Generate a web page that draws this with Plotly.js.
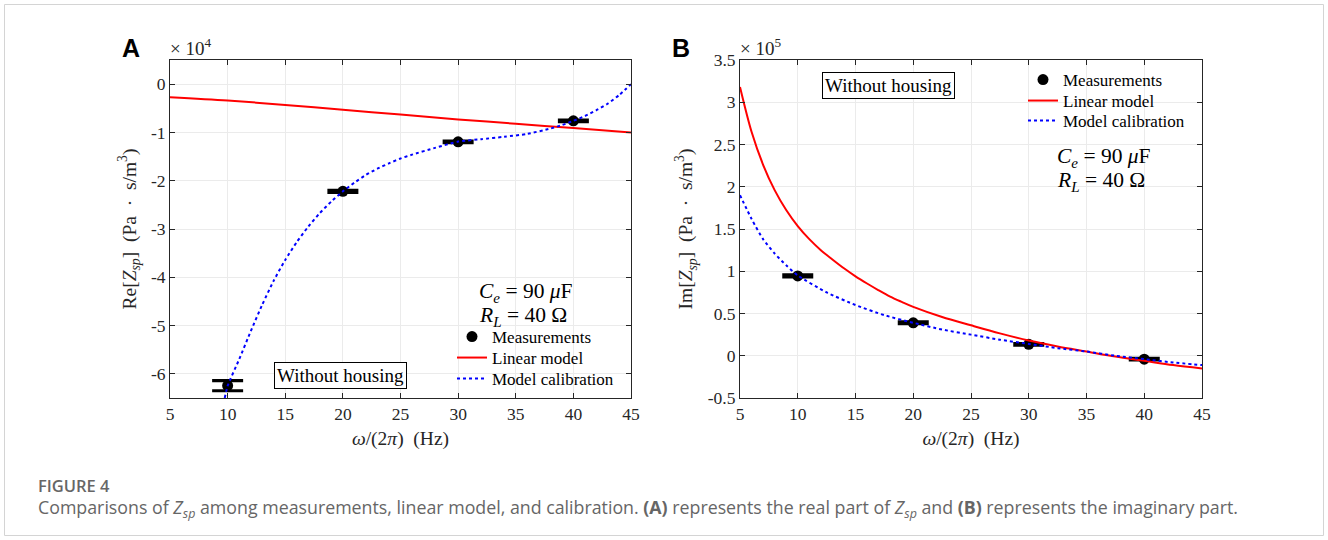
<!DOCTYPE html>
<html>
<head>
<meta charset="utf-8">
<script src="https://cdn.plot.ly/plotly-3.0.1.min.js"></script>
<style>
html,body{margin:0;padding:0;background:#fff;}
#chart{width:1328px;height:540px;}
</style>
</head>
<body>
<div id="chart"></div>
<script>
// ---------- data ----------
const measFreq = [10, 20, 30, 40];
const reMeas = [-6.245, -2.22, -1.195, -0.76];      // x1e4
const reErr = [0.105, 0.02, 0.015, 0.015];
const imMeas = [0.945, 0.39, 0.135, -0.04];        // x1e5
const imErr = [0.012, 0.01, 0.01, 0.01];

const reLinFreq = [5, 10, 15, 20, 25, 30, 35, 40, 45];
const reLin = [-0.27, -0.34, -0.43, -0.53, -0.63, -0.73, -0.82, -0.91, -1.0];

const reCalFreq = [9.75, 10, 11, 12, 13, 14, 15, 16, 17, 18, 19, 20, 21, 22, 23, 24, 25, 26, 28, 30, 32, 34, 36, 38, 39, 40, 41, 42, 43, 44, 45];
const reCal = [-6.5, -6.25, -5.7, -5.12, -4.57, -4.07, -3.64, -3.27, -2.95, -2.67, -2.43, -2.22, -2.04, -1.88, -1.75, -1.64, -1.54, -1.46, -1.32, -1.19, -1.14, -1.09, -1.03, -0.92, -0.85, -0.76, -0.66, -0.54, -0.4, -0.22, 0.0];

const imLinFreq = [5, 6, 7, 8, 9, 10, 11, 12, 13, 14, 15, 16, 17, 18, 19, 20, 22.5, 25, 27.5, 30, 32.5, 35, 37.5, 40, 42.5, 45];
const imLin = [3.18, 2.65, 2.26, 1.96, 1.725, 1.535, 1.38, 1.25, 1.14, 1.035, 0.94, 0.855, 0.775, 0.70, 0.637, 0.578, 0.458, 0.36, 0.265, 0.18, 0.11, 0.05, -0.01, -0.06, -0.11, -0.15];

const imCalFreq = [5, 6, 7, 8, 9, 10, 12.5, 15, 17.5, 20, 22.5, 25, 27.5, 30, 32.5, 35, 37.5, 40, 42.5, 45];
const imCal = [1.90, 1.62, 1.38, 1.21, 1.07, 0.95, 0.75, 0.60, 0.48, 0.39, 0.31, 0.25, 0.19, 0.14, 0.09, 0.05, 0.0, -0.04, -0.08, -0.11];

const xTicks = [5, 10, 15, 20, 25, 30, 35, 40, 45];
const xTickText = ['5', '10', '15', '20', '25', '30', '35', '40', '45'];
const reTicks = [0, -1, -2, -3, -4, -5, -6];
const reTickText = ['0', '-1', '-2', '-3', '-4', '-5', '-6'];
const imTicks = [-0.5, 0, 0.5, 1, 1.5, 2, 2.5, 3, 3.5];
const imTickText = ['-0.5', '0', '0.5', '1', '1.5', '2', '2.5', '3', '3.5'];

// ---------- geometry ----------
const W = 1328, H = 540;
const px = v => v / W, py = v => 1 - v / H;
const serif = 'Liberation Serif, Times New Roman, serif';
const sans = 'Open Sans, Noto Sans, sans-serif';
const ink = '#262626';
const sp = '&nbsp;';

function measTrace(y, err, xa, ya, leg) {
  return {x: measFreq, y: y, xaxis: xa, yaxis: ya, type: 'scatter', mode: 'markers',
    name: 'Measurements', legend: leg,
    marker: {color: '#000', size: 11, symbol: 'circle'},
    error_y: {type: 'data', array: err, visible: true, color: '#000', thickness: 3.2, width: 15.5}};
}
function linTrace(x, y, xa, ya, leg) {
  return {x: x, y: y, xaxis: xa, yaxis: ya, type: 'scatter', mode: 'lines', name: 'Linear model',
    legend: leg, line: {color: '#ff0000', width: 2, shape: 'spline', smoothing: 0.9}};
}
function calTrace(x, y, xa, ya, leg) {
  return {x: x, y: y, xaxis: xa, yaxis: ya, type: 'scatter', mode: 'lines', name: 'Model calibration',
    legend: leg, line: {color: '#0000ff', width: 2, dash: 'dot', shape: 'spline', smoothing: 0.6}};
}

const traces = [
  measTrace(reMeas, reErr, 'x', 'y', 'legend'),
  linTrace(reLinFreq, reLin, 'x', 'y', 'legend2'),
  calTrace(reCalFreq, reCal, 'x', 'y', 'legend3'),
  measTrace(imMeas, imErr, 'x2', 'y2', 'legend4'),
  linTrace(imLinFreq, imLin, 'x2', 'y2', 'legend5'),
  calTrace(imCalFreq, imCal, 'x2', 'y2', 'legend6')
];

function axisBase() {
  return {showline: true, linecolor: ink, linewidth: 1, mirror: 'ticks', ticks: 'inside', ticklen: 5,
    tickcolor: ink, showgrid: true, gridcolor: '#ebebeb', gridwidth: 1, zeroline: false,
    tickfont: {family: serif, size: 17.5, color: ink}, automargin: false, fixedrange: true};
}
const titleFont = {family: serif, size: 19.5, color: ink};
const xTitle = '<i>ω</i>/(2<i>π</i>)' + sp + sp + '(Hz)';
const yTitleA = 'Re[<i>Z</i><sub><i>sp</i></sub>]' + sp + sp + '(Pa' + sp + sp + '·' + sp + sp + 's/m<sup>3</sup>)';
const yTitleB = 'Im[<i>Z</i><sub><i>sp</i></sub>]' + sp + sp + '(Pa' + sp + sp + '·' + sp + sp + 's/m<sup>3</sup>)';

function note(text, x, y, size, extra) {
  return Object.assign({text: text, xref: 'paper', yref: 'paper', x: px(x), y: py(y), xanchor: 'left', yanchor: 'middle',
    showarrow: false, font: {family: serif, size: size, color: '#000'}}, extra || {});
}
// one legend per entry so the row spacing can follow the reference
function leg(x, textCenterY) {
  return {x: px(x), y: py(textCenterY - 18), xanchor: 'left', yanchor: 'top', bgcolor: 'rgba(0,0,0,0)',
    borderwidth: 0, font: {family: serif, size: 17, color: '#000'}, tracegroupgap: 0, itemwidth: 30};
}

const layout = {
  width: W, height: H,
  margin: {l: 0, r: 0, t: 0, b: 0},
  paper_bgcolor: '#fff', plot_bgcolor: '#fff',
  showlegend: true,
  xaxis: Object.assign(axisBase(), {domain: [px(170), px(631)], range: [5, 45], anchor: 'y',
    tickmode: 'array', tickvals: xTicks, ticktext: xTickText,
    title: {text: xTitle, font: titleFont, standoff: 8}}),
  yaxis: Object.assign(axisBase(), {domain: [py(398), py(60)], range: [-6.5, 0.5], anchor: 'x',
    tickmode: 'array', tickvals: reTicks, ticktext: reTickText,
    title: {text: yTitleA, font: titleFont, standoff: 9}}),
  xaxis2: Object.assign(axisBase(), {domain: [px(740), px(1202)], range: [5, 45], anchor: 'y2',
    tickmode: 'array', tickvals: xTicks, ticktext: xTickText,
    title: {text: xTitle, font: titleFont, standoff: 8}}),
  yaxis2: Object.assign(axisBase(), {domain: [py(398), py(60)], range: [-0.5, 3.5], anchor: 'x2',
    tickmode: 'array', tickvals: imTicks, ticktext: imTickText,
    title: {text: yTitleB, font: titleFont, standoff: 9}}),
  legend: leg(452, 337),
  legend2: leg(452, 358),
  legend3: leg(452, 379),
  legend4: leg(1023, 80),
  legend5: leg(1023, 101),
  legend6: leg(1023, 121),
  shapes: [
    {type: 'rect', xref: 'paper', yref: 'paper', x0: px(4.5), x1: px(1323.5), y0: py(535.5), y1: py(4.5),
      line: {color: '#d4d4d4', width: 1}, fillcolor: 'rgba(0,0,0,0)', layer: 'below'}
  ],
  annotations: [
    note('<b>A</b>', 131, 48, 25, {xanchor: 'center', font: {family: 'Liberation Sans, Arial, sans-serif', size: 25, color: '#000'}}),
    note('<b>B</b>', 681, 48, 25, {xanchor: 'center', font: {family: 'Liberation Sans, Arial, sans-serif', size: 25, color: '#000'}}),
    note('×' + sp + '10<sup>4</sup>', 168, 47, 19, {font: {family: serif, size: 19, color: ink}}),
    note('×' + sp + '10<sup>5</sup>', 738, 47, 19, {font: {family: serif, size: 19, color: ink}}),
    note('Without housing', 340, 375, 19, {xanchor: 'center', bordercolor: '#000', borderwidth: 1, borderpad: 2, bgcolor: '#fff'}),
    note('Without housing', 888, 85, 19, {xanchor: 'center', bordercolor: '#000', borderwidth: 1, borderpad: 2, bgcolor: '#fff'}),
    note('<i>C</i><sub><i>e</i></sub>' + sp + '=' + sp + '90' + sp + '<i>μ</i>F', 477, 292, 21.5),
    note('<i>R</i><sub><i>L</i></sub>' + sp + '=' + sp + '40' + sp + 'Ω', 477, 316, 21.5),
    note('<i>C</i><sub><i>e</i></sub>' + sp + '=' + sp + '90' + sp + '<i>μ</i>F', 1055, 158, 21.5),
    note('<i>R</i><sub><i>L</i></sub>' + sp + '=' + sp + '40' + sp + 'Ω', 1055, 181, 21.5),
    note('FIGURE 4', 36, 485, 16, {font: {family: sans, size: 16.5, color: '#666', weight: 600}}),
    note('Comparisons of <i>Z</i><sub><i>sp</i></sub> among measurements, linear model, and calibration. <b>(A)</b> represents the real part of <i>Z</i><sub><i>sp</i></sub> and <b>(B)</b> represents the imaginary part.',
      36, 509, 18, {font: {family: sans, size: 17.8, color: '#666'}})
  ]
};

Plotly.newPlot('chart', traces, layout, {displayModeBar: false, staticPlot: true});
</script>
</body>
</html>
